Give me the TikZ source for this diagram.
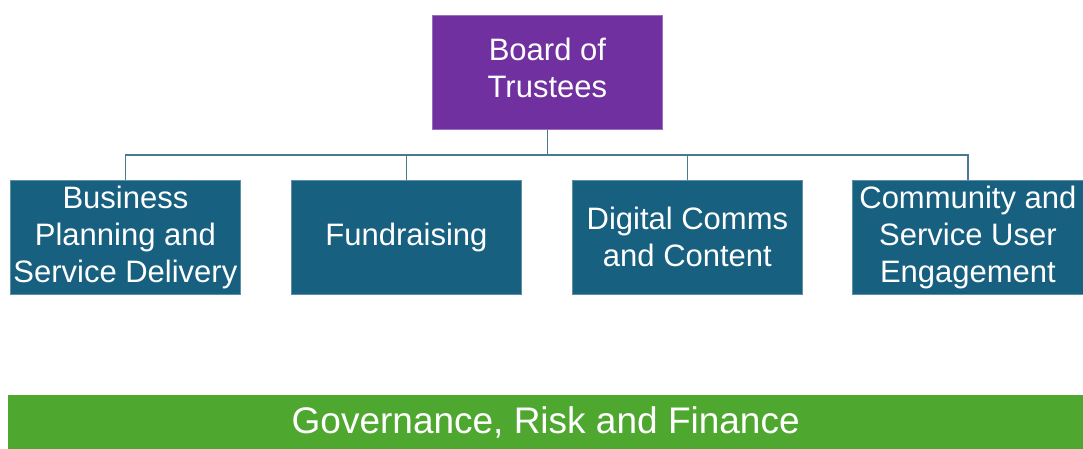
\documentclass[tikz,border=0pt]{standalone}
\usepackage{fontspec}
\setmainfont{Liberation Sans}
\usetikzlibrary{calc}
\definecolor{trustee}{HTML}{7030A0}
\definecolor{teal}{HTML}{17607F}
\definecolor{govgreen}{HTML}{4EA72E}
\definecolor{conn}{HTML}{4A7A92}
\begin{document}
\begin{tikzpicture}[x=1pt,y=-1pt,
  box/.style={fill=teal, draw=teal!70!white, line width=0.8pt, minimum width=230pt, minimum height=114pt,
    text=white, align=center, inner sep=0pt, font=\fontsize{31}{37}\selectfont, anchor=north west},
  link/.style={draw=conn, line width=1.8pt}]
\useasboundingbox (0,0) rectangle (1083,449);
\node[box, fill=trustee, draw=trustee!70!white] (board) at (432,15) {Board of\\Trustees\\[-27pt]\mbox{}};
\node[box] (b1) at (10,180) {Business\\Planning and\\Service Delivery};
\node[box] (b2) at (291,180) {Fundraising};
\node[box] (b3) at (572,180) {Digital Comms\\and Content};
\node[box, minimum width=231pt] (b4) at (852,180) {Community and\\Service User\\Engagement};
\coordinate (hub) at ($(board.south)+(0,25)$);
\draw[link] (board.south) -- (hub);
\draw[link] (b1.north) -- (b1.north |- hub) -- (b4.north |- hub) -- (b4.north);
\draw[link] (b2.north) -- (b2.north |- hub);
\draw[link] (b3.north) -- (b3.north |- hub);
\node[fill=govgreen, minimum width=1075pt, minimum height=54pt, anchor=north west, inner sep=0pt,
  text=white, font=\fontsize{37}{42}\selectfont] (gov) at (8,395) {Governance, Risk and Finance};
\end{tikzpicture}
\end{document}
